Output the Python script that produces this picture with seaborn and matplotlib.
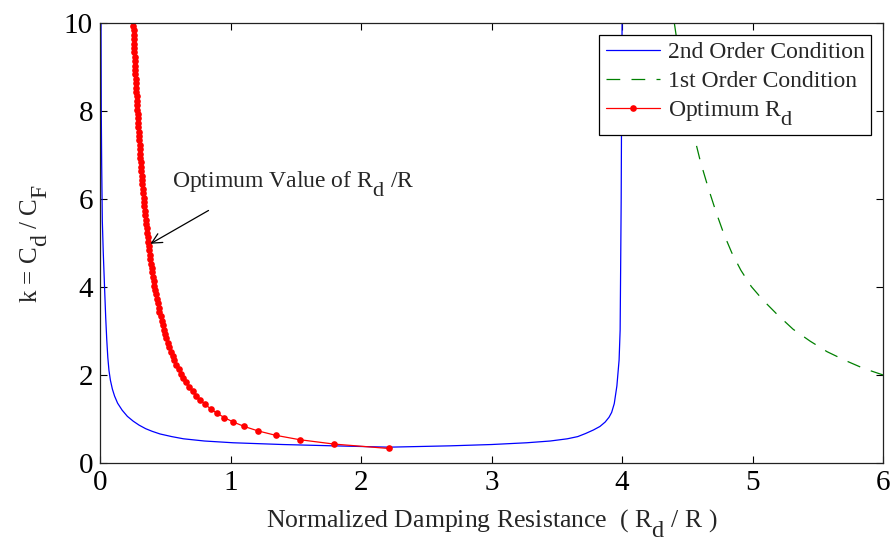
import numpy as np
import pandas as pd
import matplotlib
matplotlib.use('Agg')
import matplotlib.pyplot as plt
import seaborn as sns

# --- 2nd order condition (blue) ---
second_x = [0.008, 0.010, 0.013, 0.018, 0.025, 0.035, 0.044, 0.052, 0.060, 0.069,
            0.080, 0.095, 0.112, 0.135, 0.17, 0.21, 0.255, 0.30, 0.35, 0.40,
            0.46, 0.55, 0.64, 0.8, 1.02, 1.4, 1.79, 2.215, 2.68, 3.0,
            3.27, 3.45, 3.58, 3.66, 3.72, 3.78, 3.83, 3.87, 3.90, 3.92,
            3.94, 3.96, 3.977, 3.985, 3.99, 3.993, 3.996, 4.0]
second_k = [10.0, 8.0, 6.8, 5.5, 4.8, 4.0, 3.3, 2.8, 2.4, 2.1,
            1.88, 1.68, 1.52, 1.36, 1.2, 1.06, 0.95, 0.86, 0.78, 0.72,
            0.66, 0.60, 0.55, 0.5, 0.46, 0.42, 0.39, 0.36, 0.39, 0.42,
            0.46, 0.50, 0.55, 0.60, 0.67, 0.75, 0.83, 0.93, 1.04, 1.15,
            1.35, 1.75, 2.34, 3.02, 4.84, 6.0, 8.0, 10.0]

# --- 1st order condition (green dashed) ---
first_x = [4.40, 4.45, 4.50, 4.55, 4.60, 4.66, 4.72, 4.78, 4.84, 4.91,
           4.99, 5.08, 5.19, 5.31, 5.44, 5.57, 5.71, 5.85, 6.0]
first_k = [10.0, 9.0, 8.2, 7.45, 6.85, 6.25, 5.7, 5.2, 4.78, 4.38,
           4.01, 3.70, 3.37, 3.04, 2.77, 2.53, 2.33, 2.15, 2.0]

# --- optimum Rd (red dots) ---
opt_k = [0.33, 0.43, 0.53, 0.63, 0.73, 0.83, 0.93, 1.03, 1.13, 1.23,
         1.33, 1.43, 1.53, 1.63, 1.73, 1.83, 1.93, 2.03, 2.13, 2.23,
         2.33, 2.43, 2.53, 2.63, 2.73, 2.83, 2.93, 3.03, 3.13, 3.23,
         3.33, 3.43, 3.53, 3.63, 3.73, 3.83, 3.93, 4.03, 4.13, 4.23,
         4.33, 4.43, 4.53, 4.63, 4.73, 4.83, 4.93, 5.03, 5.13, 5.23,
         5.33, 5.43, 5.53, 5.63, 5.73, 5.83, 5.93, 6.03, 6.13, 6.23,
         6.33, 6.43, 6.53, 6.63, 6.73, 6.83, 6.93, 7.03, 7.13, 7.23,
         7.33, 7.43, 7.53, 7.63, 7.73, 7.83, 7.93, 8.03, 8.13, 8.23,
         8.33, 8.43, 8.53, 8.63, 8.73, 8.83, 8.93, 9.03, 9.13, 9.23,
         9.33, 9.43, 9.53, 9.63, 9.73, 9.83, 9.93]
opt_x = [2.214, 1.794, 1.529, 1.345, 1.210, 1.106, 1.022, 0.954, 0.897, 0.848,
         0.807, 0.770, 0.738, 0.709, 0.683, 0.660, 0.639, 0.620, 0.602, 0.586,
         0.570, 0.557, 0.543, 0.531, 0.520, 0.509, 0.499, 0.489, 0.480, 0.472,
         0.464, 0.456, 0.449, 0.442, 0.435, 0.429, 0.422, 0.416, 0.411, 0.405,
         0.400, 0.395, 0.390, 0.386, 0.381, 0.377, 0.373, 0.368, 0.365, 0.361,
         0.357, 0.353, 0.350, 0.346, 0.343, 0.340, 0.337, 0.334, 0.331, 0.328,
         0.325, 0.322, 0.320, 0.317, 0.315, 0.312, 0.310, 0.307, 0.305, 0.303,
         0.300, 0.298, 0.296, 0.294, 0.292, 0.290, 0.288, 0.286, 0.284, 0.283,
         0.281, 0.279, 0.277, 0.276, 0.274, 0.272, 0.271, 0.269, 0.268, 0.266,
         0.264, 0.263, 0.261, 0.260, 0.259, 0.257, 0.256]

sns.set_style('ticks')
plt.rcParams['font.family'] = ['Liberation Serif', 'DejaVu Serif']
plt.rcParams['mathtext.fontset'] = 'custom'
plt.rcParams['mathtext.rm'] = 'Liberation Serif'
plt.rcParams['mathtext.it'] = 'Liberation Serif'

# MATLAB-like subscripts: nearly full size, dropped low
try:
    import matplotlib._mathtext as _mt
    _mt.SHRINK_FACTOR = 0.95
    _mt.FontConstantsBase.sub1 = 0.9
    _mt.FontConstantsBase.subdrop = 0.9
except Exception:
    pass

fig = plt.figure(figsize=(8.91, 5.46), dpi=100)
ax = fig.add_axes([0.1122, 0.152, 0.879, 0.806])

df2 = pd.DataFrame({'x': second_x, 'k': second_k})
df1 = pd.DataFrame({'x': first_x, 'k': first_k})
dfo = pd.DataFrame({'x': opt_x, 'k': opt_k})

sns.lineplot(data=df2, x='x', y='k', ax=ax, color='#0000FF', lw=0.9,
             sort=False, estimator=None, label='2nd Order Condition')
sns.lineplot(data=df1, x='x', y='k', ax=ax, color='#008000', lw=0.9,
             sort=False, estimator=None, label='1st Order Condition',
             dashes=False)
ax.lines[-1].set_dashes((11, 9))
sns.lineplot(data=dfo, x='x', y='k', ax=ax, color='#FF0000', lw=0.9,
             sort=False, estimator=None, marker='o', markersize=4.8,
             markeredgewidth=0, label='Optimum $\\mathregular{R_d}$')

ax.set_xlim(0, 6)
ax.set_ylim(0, 10)
ax.set_xticks([0, 1, 2, 3, 4, 5, 6])
ax.set_yticks([0, 2, 4, 6, 8, 10])
ax.tick_params(direction='in', length=5, width=0.8, labelsize=21,
               top=True, right=True, pad=5, colors='black')
for s in ax.spines.values():
    s.set_linewidth(0.9)
    s.set_color('#222222')

ax.set_xlabel('Normalized Damping Resistance  ( $\\mathregular{R_d}$ / R )',
              fontsize=18.5, labelpad=8)
ax.set_ylabel('k = $\\mathregular{C_d}$ / $\\mathregular{C_F}$', fontsize=18, labelpad=10)

ax.annotate('Optimum Value of $\\mathregular{R_d}$ /R', xy=(0.37, 4.95),
            xytext=(0.55, 6.35), fontsize=17, va='center', ha='left')
ax.annotate('', xy=(0.368, 4.95), xytext=(0.85, 5.77),
            arrowprops=dict(arrowstyle='->', color='black', lw=0.9,
                            mutation_scale=18))

leg = ax.legend(loc='upper right', fontsize=17, frameon=True, fancybox=False,
                edgecolor='black', framealpha=1, handlelength=2.3,
                borderaxespad=0.5, labelspacing=0.3, handletextpad=0.3,
                borderpad=0.3)
leg.get_frame().set_linewidth(0.9)

fig.savefig('out.png', dpi=100)
